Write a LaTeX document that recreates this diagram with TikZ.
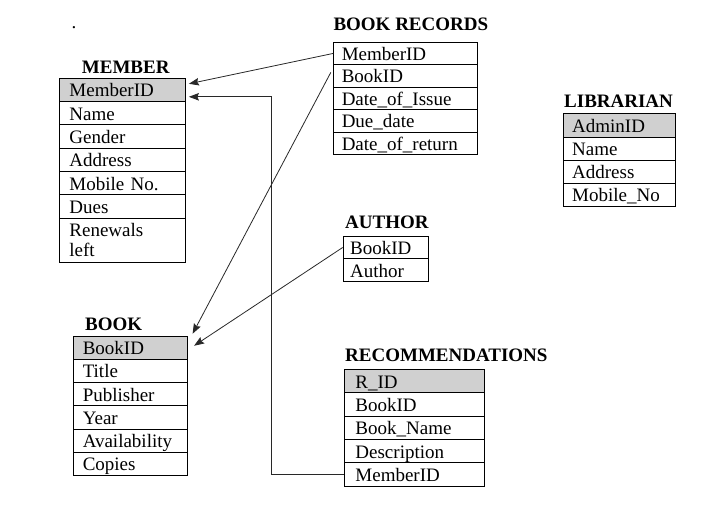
\documentclass[tikz,border=0pt]{standalone}
\usepackage{fontspec}
\setmainfont{Liberation Serif}
\usetikzlibrary{arrows.meta,calc}
\definecolor{hdr}{RGB}{208,208,208}
\definecolor{linec}{RGB}{40,40,40}
\tikzset{
  cellbase/.style={draw=black, line width=0.9pt, anchor=north west, align=left,
    inner ysep=0pt, font=\fontsize{19}{20}\selectfont},
  cell/.style={cellbase, text height=16pt, text depth=2pt},
  tabtitle/.style={anchor=base west, inner sep=0pt, font=\fontsize{19}{20}\selectfont\bfseries},
  conn/.style={draw=linec, line width=0.8pt, -{Stealth[length=10pt,width=7.5pt,inset=1.5pt]}}
}
\newcommand\dbtable[8]{%
  \pgfmathsetmacro\dbtw{#4-2*#6}%
  \foreach \t [count=\i] in {#7} {%
    \pgfmathsetmacro\dby{#3+(\i-1)*#5}%
    \ifnum\i=1 \def\dbfill{#8}\else\def\dbfill{white}\fi
    \node[cell, fill=\dbfill, minimum width=#4pt, minimum height=#5pt,
      text width=\dbtw pt, inner xsep=#6pt] (#1-\i) at (#2,\dby) {\mbox{\t}};
  }%
}
\begin{document}
\begin{tikzpicture}[x=1pt,y=-1pt]
\useasboundingbox[fill=white] (0,0) rectangle (718,531);

\node[anchor=base, inner sep=0pt, font=\fontsize{19}{20}\selectfont] (dot) at (74,28.5) {.};

% MEMBER
\node[tabtitle] (memT) at (81.7,73.3) {MEMBER};
\dbtable{mem}{59}{77.7}{126}{23.3}{10}{MemberID,Name,Gender,Address,Mobile No.,Dues}{hdr}
\node[cellbase, minimum width=126pt, minimum height=44.5pt, text width=106pt,
  inner xsep=10pt] (mem-7) at (59,217.5) {\rule{0pt}{17pt}Renewals\\left\rule[-4pt]{0pt}{4pt}};

% BOOK RECORDS
\node[tabtitle] (recT) at (333.3,30.7) {BOOK RECORDS};
\dbtable{rec}{333.3}{41.7}{143.4}{22.5}{8}{MemberID,BookID,Date\_of\_Issue,Due\_date,Date\_of\_return}{white}

% LIBRARIAN
\node[tabtitle] (libT) at (564,107.7) {LIBRARIAN};
\dbtable{lib}{562.7}{113.3}{112.3}{23.2}{9}{AdminID,Name,Address,Mobile\_No}{hdr}

% AUTHOR
\node[tabtitle] (autT) at (345,228.3) {AUTHOR};
\dbtable{aut}{342.7}{235.7}{85.6}{22.65}{7}{BookID,Author}{white}

% BOOK
\node[tabtitle] (bookT) at (85,330) {BOOK};
\dbtable{book}{73.3}{335.7}{113.4}{23.2}{9}{BookID,Title,Publisher,Year,Availability,Copies}{hdr}

% RECOMMENDATIONS
\node[tabtitle] (rcmT) at (345,361.7) {RECOMMENDATIONS};
\dbtable{rcm}{344}{369}{140}{23.34}{11}{R\_ID,BookID,Book\_Name,Description,MemberID}{hdr}

% connectors
\draw[conn] (rec-1.west) -- ($(mem-1.east)+(3,-6)$);
\draw[conn] ($(rec-2.west)+(-2.5,-3.5)$) -- ($(book-1.east)+(5,-14)$);
\draw[conn] (aut-1.west) -- ($(book-1.east)+(6.5,-2)$);
\draw[conn] (rcm-5.west) -| ($(mem-1.east)+(85,7)$) -- ($(mem-1.east)+(3,7)$);
\end{tikzpicture}
\end{document}
